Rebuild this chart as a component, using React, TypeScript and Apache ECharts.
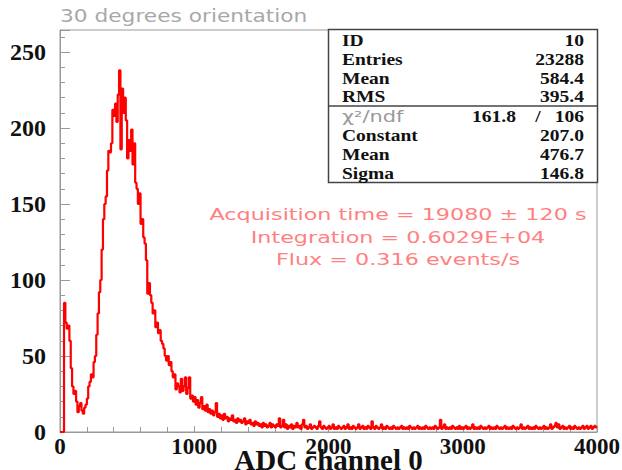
import React, { useEffect, useRef } from "react";
import * as echarts from "echarts";

const title = "30 degrees orientation";
const xAxisName = "ADC channel 0";
const binWidth = 10;
const xMin = 0;
const xMax = 4000;
const yMax = 264.5;

// counts per 10-channel bin (bins 0..399)
const counts: number[] = [
  0, 0, 0, 85, 72, 68, 70, 60, 42, 30,
  25, 27, 20, 13, 17, 19, 14, 12, 16, 18,
  22, 30, 33, 38, 36, 46, 50, 64, 78, 92,
  100, 120, 140, 150, 155, 172, 185, 184, 190, 212,
  208, 216, 204, 222, 238, 186, 226, 210, 220, 205,
  180, 192, 185, 199, 176, 190, 164, 160, 150, 157,
  137, 140, 128, 124, 113, 91, 98, 90, 85, 78,
  80, 69, 72, 65, 67, 60, 58, 55, 50, 47,
  50, 44, 46, 40, 36, 38, 28, 32, 30, 26,
  35, 27, 30, 36, 25, 29, 36, 22, 24, 20,
  23, 18, 21, 16, 19, 23, 15, 17, 14, 18,
  13, 15, 12, 14, 11, 13, 19, 10, 12, 9,
  11, 8, 12, 9, 10, 7, 9, 8, 11, 7,
  8, 6, 9, 7, 8, 6, 7, 9, 5, 7,
  6, 8, 5, 6, 4, 7, 5, 6, 4, 5,
  3, 6, 4, 5, 3, 4, 6, 3, 5, 4,
  3, 5, 4, 9, 3, 4, 8, 3, 5, 2,
  4, 3, 5, 2, 4, 3, 6, 3, 4, 2,
  5, 8, 3, 4, 2, 3, 5, 2, 3, 4,
  3, 2, 4, 7, 3, 2, 4, 3, 2, 3,
  4, 2, 3, 5, 2, 3, 2, 4, 3, 2,
  3, 4, 2, 3, 5, 2, 3, 2, 4, 3,
  2, 3, 5, 2, 3, 4, 2, 3, 2, 4,
  3, 2, 7, 3, 2, 4, 3, 2, 3, 5,
  2, 3, 2, 4, 3, 2, 3, 2, 4, 3,
  2, 3, 2, 3, 4, 2, 3, 2, 3, 2,
  4, 3, 2, 3, 2, 3, 4, 2, 3, 2,
  3, 2, 4, 3, 2, 3, 2, 3, 2, 4,
  3, 2, 3, 8, 2, 3, 5, 2, 3, 2,
  3, 2, 4, 3, 2, 3, 2, 4, 2, 3,
  2, 3, 4, 2, 3, 2, 3, 5, 2, 3,
  2, 3, 2, 4, 3, 2, 3, 2, 3, 4,
  2, 3, 2, 3, 2, 4, 3, 2, 3, 2,
  3, 4, 2, 3, 2, 3, 2, 4, 3, 2,
  3, 2, 3, 5, 2, 3, 2, 3, 4, 2,
  3, 2, 3, 2, 4, 3, 2, 3, 2, 3,
  4, 2, 3, 2, 3, 5, 2, 3, 4, 6,
  3, 5, 2, 3, 4, 2, 3, 2, 3, 4,
  2, 3, 2, 4, 3, 2, 3, 2, 3, 4,
  2, 3, 4, 2, 3, 4, 2, 3, 4, 3,
];

const statLabels = ["ID", "Entries", "Mean", "RMS"];
const statValues = ["10", "23288", "584.4", "395.4"];
const fitLabels = ["Constant", "Mean", "Sigma"];
const fitValues = ["207.0", "476.7", "146.8"];
const chi2Value = "161.8";
const ndfValue = "106";

const infoLines = [
  "Acquisition time = 19080 ± 120 s",
  "Integration = 0.6029E+04",
  "Flux = 0.316 events/s",
];

export default function App() {
  const ref = useRef<HTMLDivElement>(null);

  useEffect(() => {
    if (!ref.current) return;
    const chart = echarts.init(ref.current, null, { renderer: "svg" });

    const data: [number, number][] = counts.map((v, i) => [xMin + i * binWidth, v]);
    data.push([xMax, counts[counts.length - 1]]);

    const serif = "Liberation Serif";
    const sans = "DejaVu Sans";

    chart.setOption({
      animation: false,
      backgroundColor: "#ffffff",
      grid: {
        left: 60,
        right: 25,
        top: 30,
        bottom: 38,
        show: true,
        borderColor: "#999",
        borderWidth: 1,
        outerBoundsMode: "none",
        containLabel: false,
      },
      xAxis: {
        type: "value",
        min: xMin,
        max: xMax,
        interval: 1000,
        name: xAxisName,
        nameLocation: "middle",
        nameGap: 28,
        nameMoveOverlap: false,
        nameTextStyle: {
          fontFamily: serif,
          fontWeight: "bold",
          fontSize: 29,
          color: "#111",
          verticalAlign: "middle",
        },
        axisLine: { show: true, lineStyle: { color: "#999" } },
        axisTick: { show: true, inside: true, length: 6, lineStyle: { color: "#999" } },
        minorTick: { show: true, splitNumber: 5, length: 5, lineStyle: { color: "#999" } },
        splitLine: { show: false },
        axisLabel: {
          fontFamily: serif,
          fontWeight: "bold",
          fontSize: 23,
          color: "#111",
          margin: 3,
          formatter: (v: number) => String(v),
        },
      },
      yAxis: {
        type: "value",
        min: 0,
        max: yMax,
        interval: 50,
        axisLine: { show: true, lineStyle: { color: "#999" } },
        axisTick: { show: true, inside: true, length: 10, lineStyle: { color: "#999" } },
        minorTick: { show: true, splitNumber: 5, length: 5, lineStyle: { color: "#999" } },
        splitLine: { show: false },
        axisLabel: {
          fontFamily: serif,
          fontWeight: "bold",
          fontSize: 24,
          color: "#111",
          margin: 14,
          formatter: (v: number) => (v % 50 === 0 ? String(v) : ""),
        },
      },
      series: [
        {
          type: "line",
          step: "end",
          data,
          symbol: "none",
          lineStyle: { color: "#ff0000", width: 2.2 },
          z: 5,
        },
      ],
    });

    const zr = chart.getZr();
    const G: any = (echarts as any).graphic;
    const addText = (
      x: number,
      y: number,
      text: string,
      family: string,
      size: number,
      weight: string,
      fill: string,
      align: string,
      sx: number
    ) => {
      zr.add(
        new G.Text({
          x,
          y,
          scaleX: sx,
          z: 100,
          silent: true,
          style: {
            text,
            fontFamily: family,
            fontSize: size,
            fontWeight: weight,
            fill,
            align,
            verticalAlign: "middle",
          },
        })
      );
    };

    addText(60, 16, title, sans, 17.5, "normal", "#a8a8a8", "left", 1.24);

    zr.add(
      new G.Rect({
        z: 90,
        silent: true,
        shape: { x: 328.5, y: 29.5, width: 269, height: 153 },
        style: { fill: "#fff", stroke: "#444", lineWidth: 1.5 },
      })
    );
    zr.add(
      new G.Line({
        z: 95,
        silent: true,
        shape: { x1: 328.5, y1: 106, x2: 597.5, y2: 106 },
        style: { stroke: "#444", lineWidth: 1.5 },
      })
    );
    const bs = 16;
    const bsx = 1.22;
    const rowY = [41, 60, 78.5, 97, 117, 136, 155, 174];
    statLabels.forEach((l, i) => {
      addText(342, rowY[i], l, serif, bs, "bold", "#111", "left", bsx);
      addText(584, rowY[i], statValues[i], serif, bs, "bold", "#111", "right", bsx);
    });
    addText(342, rowY[4], "χ²/ndf", sans, 15.5, "normal", "#999", "left", 1.35);
    addText(516, rowY[4], chi2Value, serif, bs, "bold", "#111", "right", bsx);
    addText(538, rowY[4], "/", serif, bs, "bold", "#111", "center", bsx);
    addText(584, rowY[4], ndfValue, serif, bs, "bold", "#111", "right", bsx);
    fitLabels.forEach((l, i) => {
      addText(342, rowY[5 + i], l, serif, bs, "bold", "#111", "left", bsx);
      addText(584, rowY[5 + i], fitValues[i], serif, bs, "bold", "#111", "right", bsx);
    });
    const infoY = [215, 238, 260];
    infoLines.forEach((t, i) => {
      addText(398, infoY[i], t, sans, 16.5, "normal", "#ff8080", "center", 1.35);
    });

    return () => chart.dispose();
  }, []);

  return (
    <div
      ref={ref}
      style={{ position: "fixed", left: 0, top: 0, width: 622, height: 470, background: "#fff" }}
    />
  );
}
